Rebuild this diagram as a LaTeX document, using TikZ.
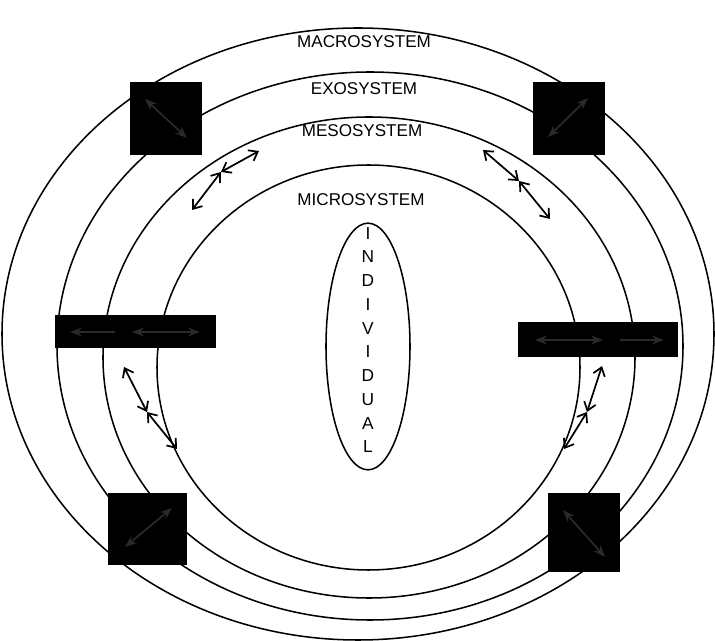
\documentclass[tikz,border=0pt]{standalone}
\usepackage{fontspec}
\setmainfont{Liberation Sans}
\usetikzlibrary{arrows.meta,shapes.geometric}
\definecolor{ink}{HTML}{000000}
\definecolor{ghost}{HTML}{2A2A2A}

\begin{document}
\begin{tikzpicture}[x=.75pt,y=-.75pt,>=Stealth,line width=1.15pt]
      \tikzset{
        ring/.style={ellipse,draw=ink,inner sep=0pt},
        blot/.style={rectangle,fill=ink,inner sep=0pt},
        lbl/.style={font=\fontsize{12.8}{15}\selectfont,text=ink,inner sep=0pt},
        pair/.style={{Straight Barb[length=6pt,width=9pt]}-{Straight Barb[length=6pt,width=9pt]},draw=ink,line width=1.3pt},
        faint/.style={draw=ghost,line width=1.3pt}
      }
      \useasboundingbox (0,0) rectangle (715,641);

      \node[ring,minimum width=534pt,minimum height=459pt] (macro) at (358,334) {};
      \node[ring,minimum width=469.5pt,minimum height=411pt] (exo) at (370,346) {};
      \node[ring,minimum width=399pt,minimum height=360.75pt] (meso) at (369,357.5) {};
      \node[ring,minimum width=317.25pt,minimum height=303.75pt] (micro) at (368.5,367.5) {};
      \node[ring,minimum width=63pt,minimum height=185pt] (indiv) at (368,346.5) {};

      \node[lbl] (macrolbl) at (364,42) {MACROSYSTEM};
      \node[lbl] (exolbl) at (364,89) {EXOSYSTEM};
      \node[lbl] (mesolbl) at (362,131) {MESOSYSTEM};
      \node[lbl] (microlbl) at (361,200) {MICROSYSTEM};
      \node[lbl,font=\fontsize{13}{17.8}\selectfont,align=center] (indivlbl) at (368,340)
        {I\\N\\D\\I\\V\\I\\D\\U\\A\\L};

      \node[blot,minimum width=54pt,minimum height=54.75pt] (boxTL) at (166,118.5) {};
      \node[blot,minimum width=54pt,minimum height=54.75pt] (boxTR) at (569,118.5) {};
      \node[blot,minimum width=120.75pt,minimum height=24.75pt] (barL) at (135.5,331.5) {};
      \node[blot,minimum width=120pt,minimum height=26.25pt] (barR) at (598,339.5) {};
      \node[blot,minimum width=59.25pt,minimum height=54pt] (boxBL) at (147.5,529) {};
      \node[blot,minimum width=54pt,minimum height=59.25pt] (boxBR) at (584,532.5) {};

      \coordinate (tl1) at (145,99);
      \coordinate (tl2) at (187,138);
      \coordinate (tr1) at (548,137);
      \coordinate (tr2) at (588,98);
      \coordinate (bl1) at (125,547);
      \coordinate (bl2) at (172,508);
      \coordinate (br1) at (563,510);
      \coordinate (br2) at (605,557);
      \coordinate (la1) at (70,332);
      \coordinate (la2) at (115,332);
      \coordinate (lb1) at (132,332);
      \coordinate (lb2) at (200,332);
      \coordinate (ra1) at (535,340);
      \coordinate (ra2) at (603,340);
      \coordinate (rb1) at (620,340);
      \coordinate (rb2) at (664,340);
      \draw[faint,<->] (tl1)--(tl2);
      \draw[faint,<->] (tr1)--(tr2);
      \draw[faint,<->] (bl1)--(bl2);
      \draw[faint,<->] (br1)--(br2);
      \draw[faint,<-] (la1)--(la2);
      \draw[faint,<->] (lb1)--(lb2);
      \draw[faint,<->] (ra1)--(ra2);
      \draw[faint,->] (rb1)--(rb2);

      \coordinate (nwA) at (192,210);
      \coordinate (nwX) at (221,172);
      \coordinate (nwB) at (259,151);
      \coordinate (neA) at (483,150);
      \coordinate (neX) at (519,181);
      \coordinate (neB) at (550,219);
      \coordinate (wA) at (124,367);
      \coordinate (wX) at (147,412);
      \coordinate (wB) at (177,449);
      \coordinate (eA) at (602,366);
      \coordinate (eX) at (587,412);
      \coordinate (eB) at (564,449);
      \draw[pair] (nwA)--(nwX);
      \draw[pair] (nwX)--(nwB);
      \draw[pair] (neA)--(neX);
      \draw[pair] (neX)--(neB);
      \draw[pair] (wA)--(wX);
      \draw[pair] (wX)--(wB);
      \draw[pair] (eA)--(eX);
      \draw[pair] (eX)--(eB);
    \end{tikzpicture}
\end{document}
